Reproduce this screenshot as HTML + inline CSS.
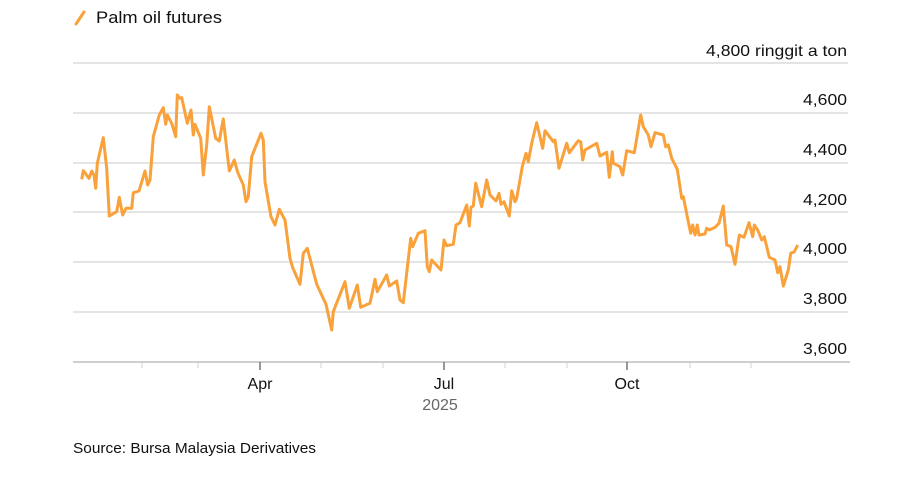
<!DOCTYPE html>
<html><head><meta charset="utf-8"><style>
body{margin:0;background:#fff;width:900px;height:478px;overflow:hidden}
svg text{font-family:"Liberation Sans",sans-serif}
</style></head><body>
<svg width="900" height="478" xmlns="http://www.w3.org/2000/svg">
<line x1="76" y1="24" x2="84" y2="12" stroke="#f9a13a" stroke-width="3" stroke-linecap="round"/>
<text x="96" y="23" font-size="16.5" fill="#111" textLength="126" lengthAdjust="spacingAndGlyphs">Palm oil futures</text>
<text x="847" y="56" font-size="16" fill="#111" text-anchor="end" textLength="141" lengthAdjust="spacingAndGlyphs">4,800 ringgit a ton</text>
<g stroke="#dcdcdc" stroke-width="1.5">
<line x1="73" y1="63" x2="848" y2="63"/><line x1="73" y1="113" x2="848" y2="113"/>
<line x1="73" y1="163" x2="848" y2="163"/><line x1="73" y1="212" x2="848" y2="212"/>
<line x1="73" y1="262" x2="848" y2="262"/><line x1="73" y1="312" x2="848" y2="312"/>
</g>
<line x1="73" y1="362" x2="850" y2="362" stroke="#cfcfcf" stroke-width="2"/>
<g stroke="#d0d0d0" stroke-width="1">
<line x1="142" y1="362" x2="142" y2="368"/><line x1="198" y1="362" x2="198" y2="368"/>
<line x1="321" y1="362" x2="321" y2="368"/><line x1="383" y1="362" x2="383" y2="368"/>
<line x1="505" y1="362" x2="505" y2="368"/><line x1="567" y1="362" x2="567" y2="368"/>
<line x1="690" y1="362" x2="690" y2="368"/><line x1="751" y1="362" x2="751" y2="368"/>
</g>
<g stroke="#555" stroke-width="1.2">
<line x1="260" y1="362" x2="260" y2="370"/><line x1="444" y1="362" x2="444" y2="370"/><line x1="627" y1="362" x2="627" y2="370"/>
</g>
<g font-size="16" fill="#111" text-anchor="end">
<text x="847" y="105" textLength="44" lengthAdjust="spacingAndGlyphs">4,600</text>
<text x="847" y="155" textLength="44" lengthAdjust="spacingAndGlyphs">4,400</text>
<text x="847" y="205" textLength="44" lengthAdjust="spacingAndGlyphs">4,200</text>
<text x="847" y="254" textLength="44" lengthAdjust="spacingAndGlyphs">4,000</text>
<text x="847" y="304" textLength="44" lengthAdjust="spacingAndGlyphs">3,800</text>
<text x="847" y="354" textLength="44" lengthAdjust="spacingAndGlyphs">3,600</text>
</g>
<g font-size="16" fill="#111" text-anchor="middle">
<text x="260" y="389">Apr</text><text x="444" y="389">Jul</text><text x="627" y="389">Oct</text>
</g>
<text x="440" y="410" font-size="16" fill="#666" text-anchor="middle">2025</text>
<text x="73" y="453" font-size="15" fill="#111" textLength="243" lengthAdjust="spacingAndGlyphs">Source: Bursa Malaysia Derivatives</text>
<polyline fill="none" stroke="#f9a13a" stroke-width="3" stroke-linejoin="round" points="81.7,179.3 83.3,170.7 89,178.3 91.7,171 94,175 95.7,188.3 97.3,163.3 103.3,137.7 106.7,168.3 109.3,216 116.7,211.7 119.3,197.3 122.7,215 126,208.3 131.7,208.3 133.3,192.7 139,191 145,171 147.7,185 150,180 153.3,136.7 159.3,115 163.3,107.7 165.7,124.3 167.3,115 171.7,123.3 175.7,136.7 177.3,95 180,98.3 181.7,97.7 187.3,123.3 191,110 193.3,135 195,124.3 200.7,138.3 203.3,175 206.7,145 209.3,106.7 215.7,138.3 219.3,141 223.3,119 229.3,171 234.3,160 237.7,172.3 243.3,185 246,201.7 248.3,196.7 251.7,156.7 261,133.3 263.3,140 265,181.7 271,216.7 275,225 279.3,209.3 285,220 290,258.3 292.7,267.7 300,284.3 303.3,253.3 307.3,248.3 316.7,284.3 326,304.3 331.7,330 333.3,311.7 345,281.7 349.3,308.3 357.3,285 360.7,307.3 370,303.3 375,279.3 377.3,291.7 386.7,275 389.3,286 396.7,281 400,300 403.3,302.7 410.7,238.3 412.7,246.7 418.3,233.3 425,230.7 427.3,266.7 429.3,271.7 431.7,260 441,270 444,240 446.7,245.7 453.3,244.3 456,225 460,222.7 466.7,205 469.3,226 471,207.3 473.3,206 475.7,183.3 481.7,206.7 486.7,180 490,195 496,201 499,193.3 501,204.3 504,201.7 509.3,216 511.7,190.7 515,201.7 516.7,198.3 522.3,166.7 526,153.3 528.3,161.7 531.7,143.3 536.7,122.7 542.7,148.3 545,130.7 553.3,141.7 555,140 559,168.3 566.7,143.3 569.3,152.7 578.3,140.7 580.7,141.7 582.7,160 585,150 596.7,143.3 600,156 606.7,152.3 609.3,177.3 612.3,151.7 613.3,163.3 620,166.7 622.7,175 626.7,150.7 634.3,152.7 640.7,115 643.3,126.7 648.3,135 651,146.7 655,132.7 663.3,135 665.7,146.7 668.3,145 671.7,158.3 677.3,169.3 681.7,198.3 683.3,196.7 688.3,221.7 690.7,233.3 692.7,225 695,235 697.3,225 699,235 705,234 706.7,228.3 709.3,230 715,227.3 719,223.3 723.3,206 726.7,245 731,246.7 735,264.3 739.3,235 744,237.3 749,222.7 752.7,236.7 754.3,225 757.7,230 761.7,240 764.3,236.7 769.3,257.3 775,260 777.7,272.7 780,266.7 783.3,286 788.3,270 790.7,253.3 794.3,251.7 797.7,245"/>
</svg>
</body></html>
